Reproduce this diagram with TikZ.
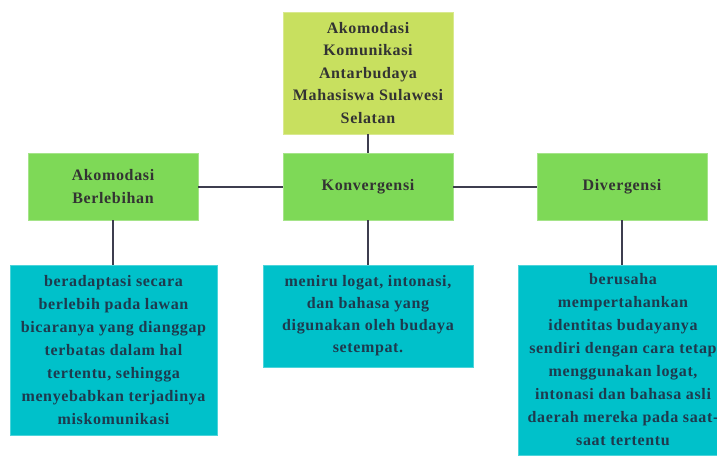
\documentclass[tikz,border=0pt]{standalone}
\usepackage{fontspec}
\setmainfont{Liberation Serif}[LetterSpace=4]
\definecolor{topc}{HTML}{C8E05F}
\definecolor{greenc}{HTML}{7ED957}
\definecolor{tealc}{HTML}{00C1CA}
\definecolor{linec}{HTML}{3D3D4F}
\definecolor{txtg}{HTML}{333333}
\definecolor{txtt}{HTML}{1E3A4E}
\tikzset{
  box/.style={rectangle, draw=#1!70!white, line width=0.8pt, fill=#1, inner sep=0pt, align=center, font=\bfseries\fontsize{16}{22.5}\selectfont},
  gbox/.style={box=greenc, text=txtg, minimum width=170pt, minimum height=67pt},
  tbox/.style={box=tealc, text=txtt, font=\bfseries\fontsize{16}{23}\selectfont},
  conn/.style={draw=linec, line width=2pt}
}
\begin{document}
\begin{tikzpicture}[x=1pt,y=-1pt]
\useasboundingbox (0,0) rectangle (717,455);
\begin{scope}
\clip (0,0) rectangle (717,455);
\node[box=topc, text=txtg, minimum width=170pt, minimum height=122pt] (top) at (368,73) {Akomodasi\\Komunikasi\\Antarbudaya\\Mahasiswa Sulawesi\\Selatan};
\node[gbox] (ab) at (113,186.5) {Akomodasi\\Berlebihan};
\node[gbox] (kv) at (368,186.5) {Konvergensi};
\node[gbox] (dv) at (622,186.5) {Divergensi};
\node[tbox, minimum width=207pt, minimum height=170pt] (t1) at (113.5,350) {beradaptasi secara\\berlebih pada lawan\\bicaranya yang dianggap\\terbatas dalam hal\\tertentu, sehingga\\menyebabkan terjadinya\\miskomunikasi};
\node[tbox, minimum width=210pt, minimum height=102pt, font=\bfseries\fontsize{16}{22}\selectfont] (t2) at (368,316) {meniru logat, intonasi,\\dan bahasa yang\\digunakan oleh budaya\\setempat.};
\node[tbox, minimum width=210pt, minimum height=190pt] (t3) at (623,360) {berusaha\\mempertahankan\\identitas budayanya\\sendiri dengan cara tetap\\menggunakan logat,\\intonasi dan bahasa asli\\daerah mereka pada saat-\\saat tertentu};
\end{scope}
\draw[conn] (top.south) -- (kv.north);
\draw[conn] (ab.east) -- (kv.west);
\draw[conn] (kv.east) -- (dv.west);
\draw[conn] (ab.south) -- (ab.south |- t1.north);
\draw[conn] (kv.south) -- (kv.south |- t2.north);
\draw[conn] (dv.south) -- (dv.south |- t3.north);
\end{tikzpicture}
\end{document}
